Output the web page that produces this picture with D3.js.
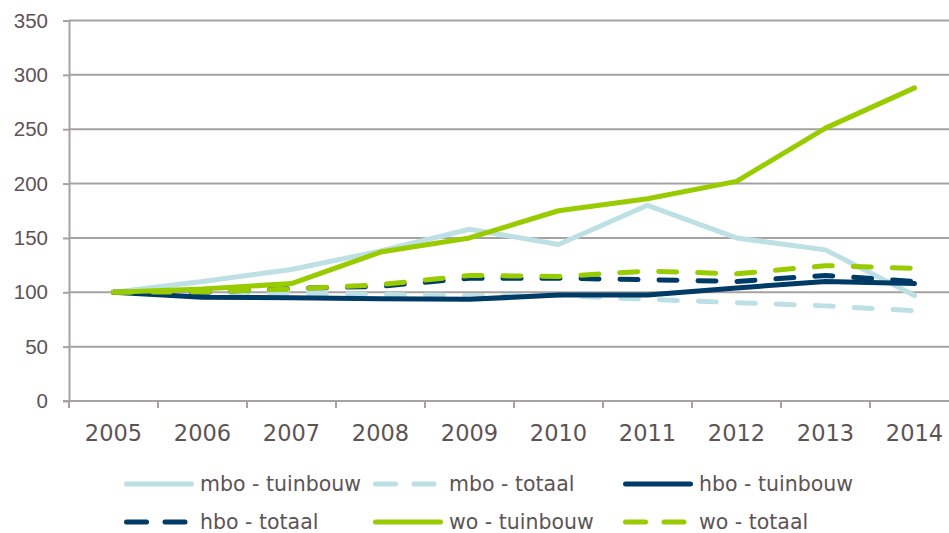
<!DOCTYPE html>
<html>
<head>
<meta charset="utf-8">
<script src="https://cdn.jsdelivr.net/npm/d3@7"></script>
<style>
  body { margin: 0; background: #fff; }
  svg { display: block; font-family: "DejaVu Sans", Verdana, sans-serif; }
</style>
</head>
<body>
<div id="chart"></div>
<script>
// index numbers, 2005 = 100
const years = ["2005", "2006", "2007", "2008", "2009", "2010", "2011", "2012", "2013", "2014"];
const yTicks = [0, 50, 100, 150, 200, 250, 300, 350];

const mboTuinbouw = [100, 110, 121, 138, 158, 144, 180, 150, 139, 97];
const mboTotaal   = [100, 100, 99, 98, 97, 97, 93.5, 90.5, 87.5, 83];
const hboTuinbouw = [100, 95.5, 95, 94, 93.5, 97.5, 97.5, 104, 110, 108];
const hboTotaal   = [100, 100, 103.5, 105.5, 113, 113, 111.5, 110, 115.5, 110];
const woTuinbouw  = [100, 103, 108, 137, 150, 175, 186, 202, 251, 288];
const woTotaal    = [100, 100.5, 103, 107, 115.5, 114.5, 119.5, 117, 124.5, 122];

const series = [
    { name: "mbo - tuinbouw", values: mboTuinbouw, color: "#bde0e5", dashed: false },
    { name: "mbo - totaal",   values: mboTotaal,   color: "#bde0e5", dashed: true },
    { name: "hbo - tuinbouw", values: hboTuinbouw, color: "#003a66", dashed: false },
    { name: "hbo - totaal",   values: hboTotaal,   color: "#003a66", dashed: true },
    { name: "wo - tuinbouw",  values: woTuinbouw,  color: "#99cc00", dashed: false },
    { name: "wo - totaal",    values: woTotaal,    color: "#99cc00", dashed: true }
];

const width = 949, height = 533;
const plotLeft = 69, plotRight = 959, plotTop = 20.5, plotBottom = 401;
const gridColor = "#a6a2a2", textColor = "#5e5454";
const dash = "18,21";

const svg = d3.select("#chart").append("svg")
    .attr("width", width).attr("height", height);

const x = d3.scaleBand().domain(years).range([plotLeft, plotRight]);
const y = d3.scaleLinear().domain([0, 350]).range([plotBottom, plotTop]);

// horizontal grid + y labels
const yAxis = svg.append("g")
    .attr("transform", "translate(" + plotLeft + ",0)")
    .call(d3.axisLeft(y).tickValues(yTicks).tickSize(6).tickSizeOuter(0));
yAxis.select(".domain").attr("stroke", gridColor).attr("stroke-width", 2);
yAxis.selectAll(".tick line").attr("stroke", gridColor).attr("stroke-width", 2);
yAxis.selectAll(".tick text")
    .attr("x", -21).attr("fill", textColor)
    .style("font-size", "20.5px");

svg.append("g").selectAll("line")
    .data(yTicks.filter(function (d) { return d > 0; }))
    .enter().append("line")
    .attr("x1", plotLeft).attr("x2", width)
    .attr("y1", function (d) { return y(d); })
    .attr("y2", function (d) { return y(d); })
    .attr("stroke", gridColor).attr("stroke-width", 2);

// x axis, ticks between categories
const xAxis = svg.append("g")
    .attr("transform", "translate(0," + plotBottom + ")");
xAxis.append("line")
    .attr("x1", plotLeft - 6).attr("x2", width)
    .attr("stroke", gridColor).attr("stroke-width", 2);
xAxis.selectAll("line.tk")
    .data(years)
    .enter().append("line").attr("class", "tk")
    .attr("x1", function (d) { return x(d); })
    .attr("x2", function (d) { return x(d); })
    .attr("y1", 0).attr("y2", 7)
    .attr("stroke", gridColor).attr("stroke-width", 2);
xAxis.selectAll("text")
    .data(years)
    .enter().append("text")
    .attr("x", function (d) { return x(d) + x.bandwidth() / 2; })
    .attr("y", 40)
    .attr("text-anchor", "middle")
    .attr("fill", textColor)
    .style("font-size", "22.5px")
    .text(function (d) { return d; });

// lines
const line = d3.line()
    .x(function (d, i) { return x(years[i]) + x.bandwidth() / 2; })
    .y(function (d) { return y(d); });

svg.append("g").selectAll("path")
    .data(series)
    .enter().append("path")
    .attr("d", function (d) { return line(d.values); })
    .attr("fill", "none")
    .attr("stroke", function (d) { return d.color; })
    .attr("stroke-width", 5)
    .attr("stroke-linecap", "round")
    .attr("stroke-linejoin", "round")
    .attr("stroke-dasharray", function (d) { return d.dashed ? dash : null; });

// legend, 3 per row
const legendX = [124, 373, 623];
const legendY = [484, 522];
const legend = svg.append("g").selectAll("g")
    .data(series)
    .enter().append("g")
    .attr("transform", function (d, i) {
        return "translate(" + legendX[i % 3] + "," + legendY[Math.floor(i / 3)] + ")";
    });
legend.append("line")
    .attr("x1", 2.5)
    .attr("x2", function (d) { return d.dashed ? 62 : 67.5; })
    .attr("stroke", function (d) { return d.color; })
    .attr("stroke-width", 5)
    .attr("stroke-linecap", "round")
    .attr("stroke-dasharray", function (d) { return d.dashed ? "20,18.5" : null; });
legend.append("text")
    .attr("x", 76)
    .attr("y", 7)
    .attr("fill", textColor)
    .style("font-size", "20.5px")
    .text(function (d) { return d.name; });
</script>
</body>
</html>
